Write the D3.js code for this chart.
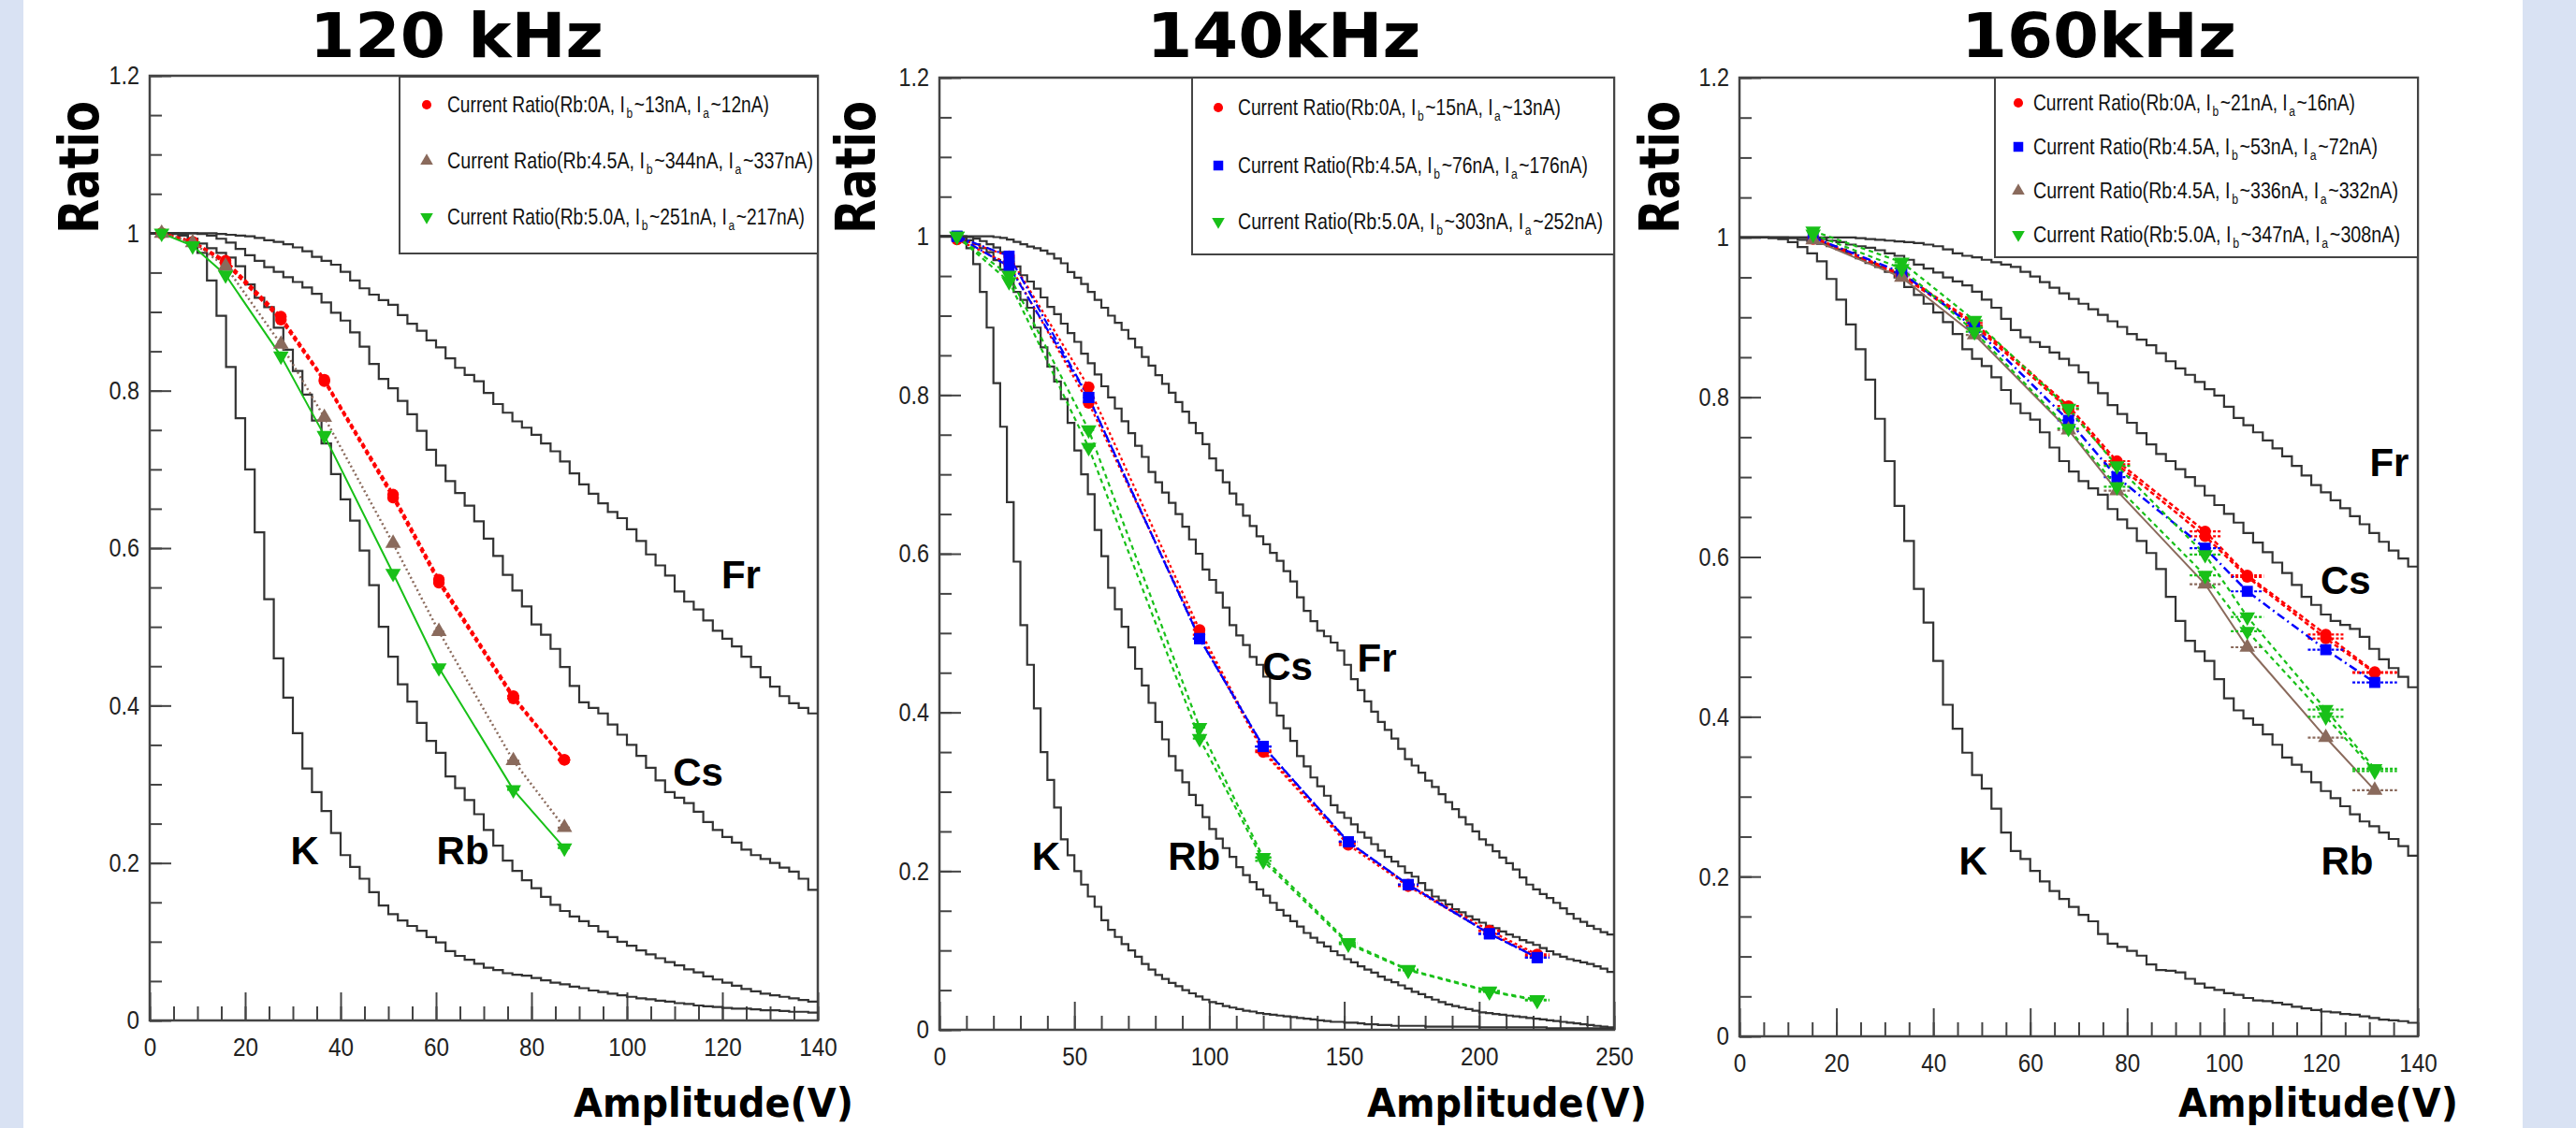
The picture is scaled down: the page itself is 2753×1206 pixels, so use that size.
<!DOCTYPE html>
<html>
<head>
<meta charset="utf-8">
<script src="https://cdn.jsdelivr.net/npm/d3@7"></script>
<style>
  body { margin: 0; background: #fff; overflow: hidden; }
  svg { display: block; }
</style>
</head>
<body>
<div id="chart"></div>
<script>
// ---- tick labels
const ratioTicks = [0, 0.2, 0.4, 0.6, 0.8, 1, 1.2];
const ampTicks140 = [0, 20, 40, 60, 80, 100, 120, 140];
const ampTicks250 = [0, 50, 100, 150, 200, 250];

// ---- 120 kHz : measured points
const amp120 = [2.5, 9, 15.9, 27.5, 36.6, 51, 60.6, 76.2, 86.9];
const xerr120 = [0.5, 0.6, 0.7, 0.8, 0.9, 1.0, 1.1, 1.3, 1.4];
const red120 = [1.0, 0.989, 0.965, 0.894, 0.814, 0.668, 0.560, 0.412, 0.331];
const red120b = [1.0, 0.989, 0.962, 0.890, 0.812, 0.664, 0.556, 0.409, 0.331];
const brown120 = [1.0, 0.988, 0.958, 0.859, 0.766, 0.606, 0.494, 0.330, 0.245];
const green120 = [1.0, 0.984, 0.947, 0.844, 0.743, 0.568, 0.448, 0.293, 0.219];
const legRb120 = ["0A", "4.5A", "5.0A"];
const legIb120 = [13, 344, 251];
const legIa120 = [12, 337, 217];

// 120 kHz : histograms (bin width 2 V, 0..140)
const hist120K = [1.0, 1.0, 0.999, 0.997, 0.993, 0.975, 0.94, 0.895, 0.83, 0.765,
  0.70, 0.62, 0.535, 0.46, 0.41, 0.365, 0.32, 0.29, 0.266, 0.238,
  0.21, 0.195, 0.18, 0.163, 0.146, 0.135, 0.127, 0.12, 0.114, 0.106,
  0.099, 0.088, 0.082, 0.077, 0.072, 0.067, 0.064, 0.06, 0.058, 0.057,
  0.054, 0.051, 0.048, 0.046, 0.043, 0.041, 0.038, 0.036, 0.034, 0.032,
  0.030, 0.028, 0.027, 0.025, 0.024, 0.022, 0.021, 0.019, 0.018, 0.017,
  0.016, 0.015, 0.015, 0.014, 0.013, 0.013, 0.012, 0.011, 0.011, 0.010];
const hist120Rb = [1.0, 1.0, 1.0, 0.998, 0.993, 0.987, 0.981, 0.975, 0.969, 0.958,
  0.935, 0.918, 0.906, 0.88, 0.852, 0.825, 0.795, 0.762, 0.733, 0.694,
  0.662, 0.635, 0.597, 0.553, 0.50, 0.462, 0.427, 0.405, 0.378, 0.355,
  0.34, 0.31, 0.295, 0.28, 0.262, 0.242, 0.222, 0.203, 0.19, 0.178,
  0.168, 0.157, 0.147, 0.139, 0.132, 0.126, 0.12, 0.113, 0.106, 0.1,
  0.095, 0.089, 0.084, 0.079, 0.074, 0.07, 0.065, 0.061, 0.056, 0.052,
  0.048, 0.044, 0.04, 0.037, 0.034, 0.032, 0.03, 0.028, 0.026, 0.024];
const hist120Cs = [1.0, 1.0, 1.0, 1.0, 1.0, 0.999, 0.997, 0.993, 0.988, 0.98,
  0.972, 0.965, 0.957, 0.951, 0.944, 0.938, 0.931, 0.923, 0.912, 0.899,
  0.889, 0.874, 0.856, 0.834, 0.815, 0.803, 0.787, 0.77, 0.749, 0.725,
  0.705, 0.685, 0.67, 0.654, 0.634, 0.612, 0.59, 0.566, 0.546, 0.526,
  0.503, 0.49, 0.472, 0.449, 0.425, 0.404, 0.397, 0.39, 0.376, 0.363,
  0.35, 0.336, 0.321, 0.305, 0.29, 0.283, 0.276, 0.265, 0.252, 0.242,
  0.233, 0.226, 0.217, 0.21, 0.205, 0.2, 0.194, 0.189, 0.18, 0.166];
const hist120Fr = [1.0, 1.0, 1.0, 1.0, 1.0, 1.0, 1.0, 0.999, 0.998, 0.997,
  0.996, 0.994, 0.991, 0.989, 0.986, 0.982, 0.977, 0.97, 0.965, 0.96,
  0.951, 0.94, 0.93, 0.922, 0.915, 0.909, 0.896, 0.885, 0.876, 0.864,
  0.855, 0.841, 0.829, 0.82, 0.812, 0.797, 0.783, 0.772, 0.761, 0.753,
  0.744, 0.733, 0.723, 0.71, 0.695, 0.681, 0.669, 0.657, 0.646, 0.638,
  0.624, 0.609, 0.592, 0.578, 0.565, 0.545, 0.532, 0.522, 0.508, 0.495,
  0.485, 0.475, 0.462, 0.449, 0.436, 0.424, 0.412, 0.403, 0.397, 0.39];

// ---- 140 kHz : measured points
const amp140 = [6.5, 25.8, 55.3, 96.4, 120, 151.5, 173.7, 203.8, 221.5];
const xerr140 = [1, 1.5, 2, 2.5, 3, 3.5, 3.8, 4.1, 4.5];
const red140 = [0.998, 0.975, 0.810, 0.504, 0.352, 0.236, 0.183, 0.125, 0.095];
const red140b = [0.996, 0.965, 0.790, 0.498, 0.350, 0.233, 0.181, 0.122, 0.093];
const blue140 = [1.0, 0.975, 0.797, 0.493, 0.357, 0.237, 0.183, 0.121, 0.091];
const blue140b = [1.0, 0.962, 0.797, 0.493, 0.357, 0.237, 0.183, 0.121, 0.091];
const green140 = [1.0, 0.951, 0.756, 0.381, 0.217, 0.110, 0.076, 0.049, 0.038];
const green140b = [1.0, 0.943, 0.734, 0.367, 0.213, 0.108, 0.075, 0.048, 0.037];
const legRb140 = ["0A", "4.5A", "5.0A"];
const legIb140 = [15, 76, 303];
const legIa140 = [13, 176, 252];

// 140 kHz : histograms (bin width 2.5 V, 0..250)
const hist140K = [1.0, 1.0, 1.0, 0.995, 0.985, 0.965, 0.93, 0.885, 0.815, 0.76,
  0.665, 0.59, 0.51, 0.46, 0.405, 0.35, 0.315, 0.28, 0.24, 0.22,
  0.2, 0.183, 0.168, 0.155, 0.138, 0.126, 0.117, 0.108, 0.1, 0.092,
  0.083, 0.076, 0.069, 0.064, 0.059, 0.055, 0.05, 0.046, 0.042, 0.038,
  0.035, 0.033, 0.03, 0.028, 0.026, 0.024, 0.023, 0.021, 0.02, 0.019,
  0.018, 0.017, 0.016, 0.015, 0.014, 0.013, 0.012, 0.011, 0.01, 0.01,
  0.009, 0.009, 0.008, 0.007, 0.007, 0.006, 0.006, 0.005, 0.005, 0.005,
  0.005, 0.005, 0.004, 0.004, 0.004, 0.004, 0.004, 0.004, 0.004, 0.004,
  0.003, 0.003, 0.003, 0.003, 0.003, 0.003, 0.003, 0.003, 0.003, 0.003,
  0.002, 0.002, 0.002, 0.002, 0.002, 0.002, 0.002, 0.002, 0.002, 0.002];
const hist140Rb = [1.0, 1.0, 1.0, 0.998, 0.995, 0.99, 0.985, 0.98, 0.97, 0.958,
  0.945, 0.93, 0.92, 0.91, 0.885, 0.86, 0.836, 0.817, 0.795, 0.765,
  0.73, 0.70, 0.675, 0.63, 0.597, 0.557, 0.53, 0.508, 0.482, 0.455,
  0.434, 0.412, 0.388, 0.366, 0.345, 0.327, 0.312, 0.296, 0.283, 0.268,
  0.253, 0.241, 0.229, 0.218, 0.205, 0.195, 0.186, 0.177, 0.169, 0.16,
  0.151, 0.144, 0.137, 0.13, 0.122, 0.116, 0.11, 0.105, 0.099, 0.094,
  0.089, 0.085, 0.08, 0.076, 0.072, 0.067, 0.063, 0.06, 0.056, 0.052,
  0.048, 0.045, 0.041, 0.038, 0.035, 0.032, 0.03, 0.028, 0.026, 0.024,
  0.022, 0.021, 0.02, 0.019, 0.018, 0.017, 0.016, 0.015, 0.014, 0.013,
  0.012, 0.011, 0.01, 0.009, 0.008, 0.007, 0.006, 0.005, 0.004, 0.003];
const hist140Cs = [1.0, 1.0, 1.0, 1.0, 0.999, 0.997, 0.994, 0.99, 0.986, 0.98,
  0.972, 0.962, 0.951, 0.943, 0.934, 0.923, 0.911, 0.902, 0.89, 0.878,
  0.867, 0.852, 0.84, 0.826, 0.811, 0.797, 0.783, 0.767, 0.752, 0.736,
  0.722, 0.703, 0.69, 0.677, 0.664, 0.65, 0.634, 0.618, 0.6, 0.58,
  0.567, 0.551, 0.532, 0.51, 0.497, 0.485, 0.47, 0.46, 0.445, 0.412,
  0.396, 0.38, 0.364, 0.345, 0.332, 0.318, 0.307, 0.295, 0.283, 0.274,
  0.267, 0.259, 0.249, 0.242, 0.234, 0.226, 0.218, 0.212, 0.206, 0.198,
  0.193, 0.185, 0.176, 0.168, 0.163, 0.158, 0.152, 0.148, 0.143, 0.139,
  0.135, 0.131, 0.128, 0.124, 0.12, 0.117, 0.113, 0.11, 0.107, 0.103,
  0.099, 0.095, 0.092, 0.089, 0.087, 0.085, 0.083, 0.08, 0.077, 0.073];
const hist140Fr = [1.0, 1.0, 1.0, 1.0, 1.0, 1.0, 1.0, 1.0, 0.999, 0.998,
  0.996, 0.993, 0.99, 0.987, 0.985, 0.982, 0.978, 0.972, 0.966, 0.955,
  0.948, 0.94, 0.93, 0.92, 0.91, 0.9, 0.891, 0.882, 0.871, 0.86,
  0.848, 0.837, 0.825, 0.814, 0.803, 0.791, 0.779, 0.765, 0.752, 0.738,
  0.72, 0.705, 0.69, 0.676, 0.662, 0.648, 0.635, 0.622, 0.612, 0.601,
  0.591, 0.578, 0.565, 0.545, 0.528, 0.515, 0.503, 0.496, 0.488, 0.478,
  0.46, 0.442, 0.428, 0.414, 0.401, 0.388, 0.378, 0.367, 0.354, 0.341,
  0.333, 0.324, 0.314, 0.306, 0.297, 0.287, 0.278, 0.268, 0.259, 0.25,
  0.24, 0.233, 0.225, 0.217, 0.21, 0.202, 0.192, 0.183, 0.177, 0.171,
  0.166, 0.16, 0.153, 0.146, 0.14, 0.136, 0.131, 0.127, 0.123, 0.12];

// ---- 160 kHz : measured points
const amp160 = [15.2, 33.5, 48.5, 67.9, 77.9, 96.1, 104.8, 121.0, 131.1];
const xerr160 = [1, 1.5, 1.8, 2.3, 2.7, 3.2, 3.4, 3.7, 4.6];
const red160 = [1.0, 0.954, 0.893, 0.789, 0.720, 0.632, 0.577, 0.503, 0.456];
const red160b = [0.998, 0.952, 0.890, 0.785, 0.716, 0.626, 0.575, 0.498, 0.455];
const blue160 = [1.0, 0.956, 0.887, 0.771, 0.700, 0.611, 0.557, 0.484, 0.443];
const brown160 = [0.997, 0.950, 0.878, 0.759, 0.683, 0.566, 0.487, 0.374, 0.308];
const green160 = [1.008, 0.969, 0.896, 0.786, 0.714, 0.603, 0.525, 0.409, 0.335];
const green160b = [1.004, 0.961, 0.882, 0.761, 0.688, 0.577, 0.507, 0.400, 0.332];
const legRb160 = ["0A", "4.5A", "4.5A", "5.0A"];
const legIb160 = [21, 53, 336, 347];
const legIa160 = [16, 72, 332, 308];

// 160 kHz : histograms (bin width 2 V, 0..140)
const hist160K = [1.0, 1.0, 1.0, 0.999, 0.998, 0.994, 0.988, 0.98, 0.97, 0.948,
  0.922, 0.891, 0.86, 0.822, 0.773, 0.72, 0.664, 0.62, 0.56, 0.518,
  0.47, 0.415, 0.385, 0.355, 0.327, 0.31, 0.285, 0.255, 0.232, 0.222,
  0.207, 0.194, 0.182, 0.172, 0.162, 0.152, 0.144, 0.128, 0.116, 0.112,
  0.107, 0.101, 0.09, 0.083, 0.082, 0.08, 0.072, 0.066, 0.061, 0.058,
  0.054, 0.052, 0.048, 0.045, 0.044, 0.042, 0.04, 0.037, 0.035, 0.033,
  0.031, 0.03, 0.028, 0.027, 0.025, 0.023, 0.021, 0.02, 0.019, 0.017];
const hist160Rb = [1.0, 1.0, 1.0, 1.0, 1.0, 0.999, 0.997, 0.995, 0.992, 0.989,
  0.985, 0.981, 0.974, 0.968, 0.963, 0.957, 0.95, 0.938, 0.928, 0.917,
  0.906, 0.894, 0.879, 0.86, 0.848, 0.839, 0.825, 0.809, 0.792, 0.78,
  0.772, 0.756, 0.737, 0.72, 0.707, 0.695, 0.686, 0.678, 0.66, 0.647,
  0.636, 0.62, 0.605, 0.585, 0.55, 0.52, 0.495, 0.482, 0.47, 0.447,
  0.423, 0.408, 0.398, 0.39, 0.378, 0.365, 0.349, 0.34, 0.331, 0.318,
  0.307, 0.298, 0.288, 0.278, 0.269, 0.263, 0.255, 0.247, 0.238, 0.226];
const hist160Cs = [1.0, 1.0, 1.0, 1.0, 1.0, 1.0, 1.0, 1.0, 0.998, 0.996,
  0.994, 0.991, 0.989, 0.987, 0.984, 0.98, 0.977, 0.972, 0.966, 0.961,
  0.956, 0.95, 0.945, 0.94, 0.932, 0.922, 0.912, 0.898, 0.884, 0.875,
  0.869, 0.863, 0.856, 0.848, 0.84, 0.831, 0.818, 0.805, 0.79, 0.779,
  0.768, 0.755, 0.741, 0.729, 0.72, 0.71, 0.7, 0.689, 0.677, 0.665,
  0.654, 0.643, 0.63, 0.618, 0.606, 0.593, 0.58, 0.565, 0.55, 0.54,
  0.528, 0.52, 0.515, 0.51, 0.5, 0.485, 0.472, 0.461, 0.45, 0.437];
const hist160Fr = [1.0, 1.0, 1.0, 1.0, 1.0, 1.0, 1.0, 1.0, 1.0, 1.0,
  1.0, 1.0, 0.999, 0.998, 0.997, 0.996, 0.995, 0.994, 0.993, 0.991,
  0.989, 0.985, 0.98, 0.977, 0.975, 0.972, 0.969, 0.966, 0.963, 0.957,
  0.951, 0.944, 0.937, 0.93, 0.923, 0.917, 0.91, 0.903, 0.895, 0.888,
  0.879, 0.872, 0.865, 0.855, 0.845, 0.836, 0.828, 0.819, 0.81, 0.802,
  0.788, 0.774, 0.765, 0.756, 0.746, 0.736, 0.726, 0.714, 0.702, 0.69,
  0.681, 0.671, 0.661, 0.651, 0.641, 0.63, 0.619, 0.608, 0.598, 0.588];

// ---- styles
const RED = "#ff0000", BLUE = "#0000ff", BROWN = "#8a6a5c", GREEN = "#18c018";
const W = 2753, H = 1206;
const boldFont = "'DejaVu Sans', Verdana, sans-serif";
const plainFont = "'Liberation Sans', Arial, sans-serif";

const panels = [
  {
    title: "120 kHz", titleX: 488, titleW: 314, ratioX: 105, ampRight: 912,
    left: 160, right: 874, top: 81, bottom: 1091,
    xMax: 140, xTicks: ampTicks140, xMinor: 5, binW: 2,
    hist: [hist120K, hist120Rb, hist120Cs, hist120Fr],
    names: [["K", 32.5, 0.199], ["Rb", 65.6, 0.199], ["Cs", 114.9, 0.298], ["Fr", 123.9, 0.549]],
    amp: amp120, xerr: xerr120,
    series: [
      { color: RED, shape: "circle", dash: "5,3", width: 3, ys: [red120, red120b] },
      { color: BROWN, shape: "up", dash: "2,3", width: 2.5, ys: [brown120] },
      { color: GREEN, shape: "down", dash: null, width: 2, ys: [green120] }
    ],
    legend: { x0: 427, y0: 82, y1: 271, mx: 456, tx: 478, rows: [112, 172, 232], widths: [344, 391, 382],
      rb: legRb120, ib: legIb120, ia: legIa120 }
  },
  {
    title: "140kHz", titleX: 1372, titleW: 293, ratioX: 935, ampRight: 1760,
    left: 1004, right: 1725, top: 83, bottom: 1101,
    xMax: 250, xTicks: ampTicks250, xMinor: 10, binW: 2.5,
    hist: [hist140K, hist140Rb, hist140Cs, hist140Fr],
    names: [["K", 39.5, 0.201], ["Rb", 94.4, 0.201], ["Cs", 129, 0.441], ["Fr", 162.1, 0.451]],
    amp: amp140, xerr: xerr140,
    series: [
      { color: RED, shape: "circle", dash: "3,3", width: 2.2, ys: [red140, red140b] },
      { color: BLUE, shape: "square", dash: "9,3,2,3", width: 2.2, ys: [blue140, blue140b] },
      { color: GREEN, shape: "down", dash: "5,4", width: 2.2, ys: [green140, green140b] }
    ],
    legend: { x0: 1274, y0: 83, y1: 272, mx: 1302, tx: 1323, rows: [115, 177, 237], widths: [345, 374, 390],
      rb: legRb140, ib: legIb140, ia: legIa140 }
  },
  {
    title: "160kHz", titleX: 2243, titleW: 294, ratioX: 1794, ampRight: 2627,
    left: 1859, right: 2584, top: 83, bottom: 1108,
    xMax: 140, xTicks: ampTicks140, xMinor: 5, binW: 2,
    hist: [hist160K, hist160Rb, hist160Cs, hist160Fr],
    names: [["K", 48.2, 0.203], ["Rb", 125.4, 0.203], ["Cs", 125.1, 0.554], ["Fr", 134.1, 0.701]],
    amp: amp160, xerr: xerr160,
    series: [
      { color: RED, shape: "circle", dash: "5,3", width: 2.5, ys: [red160, red160b] },
      { color: BLUE, shape: "square", dash: "9,4,2,4", width: 2.5, ys: [blue160] },
      { color: BROWN, shape: "up", dash: null, width: 2, ys: [brown160] },
      { color: GREEN, shape: "down", dash: "5,4", width: 2.2, ys: [green160, green160b] }
    ],
    legend: { x0: 2132, y0: 83, y1: 275, mx: 2157, tx: 2173, rows: [110, 157, 204, 251], widths: [344, 368, 390, 392],
      rb: legRb160, ib: legIb160, ia: legIa160 }
  }
];

const svg = d3.select("#chart").append("svg")
  .attr("width", W).attr("height", H);

// side strips
svg.append("rect").attr("x", 0).attr("y", 0).attr("width", 25).attr("height", H).attr("fill", "#d9e2f3");
svg.append("rect").attr("x", 2696).attr("y", 0).attr("width", W - 2696).attr("height", H).attr("fill", "#d9e2f3");

function symbolPath(shape, size) {
  const type = shape === "circle" ? d3.symbolCircle
    : shape === "square" ? d3.symbolSquare : d3.symbolTriangle;
  return d3.symbol().type(type).size(size)();
}

function drawMarker(g, shape, color, cx, cy, size) {
  g.append("path")
    .attr("d", symbolPath(shape, size))
    .attr("transform", `translate(${cx},${cy})` + (shape === "down" ? " rotate(180)" : ""))
    .attr("fill", color);
}

// narrow look for tick labels: squeeze to a fixed width per character
function tickWidth(s) {
  return s.split("").reduce((w, c) => w + (c === "." ? 5.5 : 13.5), 0);
}

// legend line: text pieces laid out one after another (subscripts lowered),
// then the whole row is squeezed horizontally to the width seen in the picture
function legendText(g, x0, cy, target, rb, ib, ia) {
  const parts = [
    [`Current Ratio(Rb:${rb}, I`, false], ["b", true],
    [`~${ib}nA, I`, false], ["a", true], [`~${ia}nA)`, false]
  ];
  const gap = 2;
  const row = g.append("g");
  let cx = 0;
  parts.forEach(([txt, sub]) => {
    const t = row.append("text")
      .attr("x", cx).attr("y", sub ? cy + 14 : cy + 8)
      .attr("font-family", plainFont)
      .attr("font-size", sub ? 15 : 24)
      .attr("fill", "#111")
      .text(txt);
    cx += t.node().getComputedTextLength() + gap;
  });
  const k = target / (cx - gap);
  row.attr("transform", `translate(${x0},0) scale(${k},1)`);
}

panels.forEach(p => {
  const x = d3.scaleLinear().domain([0, p.xMax]).range([p.left, p.right]);
  const y = d3.scaleLinear().domain([0, 1.2]).range([p.bottom, p.top]);
  const g = svg.append("g");

  // title
  g.append("text")
    .attr("x", p.titleX).attr("y", 61)
    .attr("text-anchor", "middle")
    .attr("font-family", boldFont).attr("font-weight", "bold")
    .attr("font-size", 66)
    .attr("textLength", p.titleW).attr("lengthAdjust", "spacingAndGlyphs")
    .text(p.title);

  // frame
  g.append("rect")
    .attr("x", p.left).attr("y", p.top)
    .attr("width", p.right - p.left).attr("height", p.bottom - p.top)
    .attr("fill", "#fff").attr("stroke", "#444").attr("stroke-width", 2.5);

  // axes (ticks inside, ROOT style)
  const yMajor = g.append("g").attr("transform", `translate(${p.left},0)`)
    .call(d3.axisLeft(y).tickValues(ratioTicks).tickSize(-23).tickPadding(11)
      .tickFormat(d3.format("~g")));
  const yMinor = g.append("g").attr("transform", `translate(${p.left},0)`)
    .call(d3.axisLeft(y).tickValues(d3.range(0, 1.2001, 0.05)).tickSize(-13).tickFormat(""));
  const xMajor = g.append("g").attr("transform", `translate(0,${p.bottom})`)
    .call(d3.axisBottom(x).tickValues(p.xTicks).tickSize(-30).tickPadding(18)
      .tickFormat(d3.format("~g")));
  const xMinor = g.append("g").attr("transform", `translate(0,${p.bottom})`)
    .call(d3.axisBottom(x).tickValues(d3.range(0, p.xMax + 0.001, p.xMinor)).tickSize(-15).tickFormat(""));
  [yMajor, yMinor, xMajor, xMinor].forEach(a => {
    a.select(".domain").remove();
    a.selectAll("line").attr("stroke", "#444").attr("stroke-width", 2);
    a.selectAll("text")
      .attr("font-family", plainFont).attr("font-size", 28).attr("fill", "#222")
      .attr("textLength", function () { return tickWidth(this.textContent); })
      .attr("lengthAdjust", "spacingAndGlyphs");
  });

  // histograms
  const stepLine = d3.line().x(d => x(d[0])).y(d => y(d[1])).curve(d3.curveStepAfter);
  p.hist.forEach(h => {
    const pts = h.map((v, i) => [i * p.binW, v]);
    pts.push([h.length * p.binW, h[h.length - 1]]);
    g.append("path").attr("d", stepLine(pts))
      .attr("fill", "none").attr("stroke", "#333").attr("stroke-width", 2.2);
  });

  // element names
  p.names.forEach(([t, vx, vy]) => {
    g.append("text").attr("x", x(vx)).attr("y", y(vy))
      .attr("text-anchor", "middle")
      .attr("font-family", plainFont).attr("font-weight", "bold")
      .attr("font-size", 42).text(t);
  });

  // measured series
  const line = d3.line().x((d, i) => x(p.amp[i])).y(d => y(d));
  p.series.forEach(s => {
    s.ys.forEach(ys => {
      g.append("path").attr("d", line(ys))
        .attr("fill", "none").attr("stroke", s.color)
        .attr("stroke-width", s.width)
        .attr("stroke-dasharray", s.dash);
      ys.forEach((v, i) => {
        g.append("line")
          .attr("x1", x(p.amp[i] - p.xerr[i])).attr("x2", x(p.amp[i] + p.xerr[i]))
          .attr("y1", y(v)).attr("y2", y(v))
          .attr("stroke", s.color).attr("stroke-width", 2.2)
          .attr("stroke-dasharray", "3,2");
      });
    });
  });
  p.series.forEach(s => {
    s.ys.forEach(ys => {
      ys.forEach((v, i) => drawMarker(g, s.shape, s.color, x(p.amp[i]), y(v), s.shape === "square" ? 140 : 120));
    });
  });

  // legend
  const L = p.legend;
  g.append("rect")
    .attr("x", L.x0).attr("y", L.y0)
    .attr("width", p.right - L.x0).attr("height", L.y1 - L.y0)
    .attr("fill", "#fff").attr("stroke", "#444").attr("stroke-width", 2);
  p.series.forEach((s, r) => {
    const cy = L.rows[r];
    drawMarker(g, s.shape, s.color, L.mx, cy, s.shape === "square" ? 110 : 80);
    legendText(g, L.tx, cy, L.widths[r], L.rb[r], L.ib[r], L.ia[r]);
  });

  // axis titles
  g.append("text")
    .attr("transform", `translate(${p.ratioX},179) rotate(-90)`)
    .attr("text-anchor", "middle")
    .attr("font-family", boldFont).attr("font-weight", "bold")
    .attr("font-size", 58)
    .attr("textLength", 142).attr("lengthAdjust", "spacingAndGlyphs")
    .text("Ratio");
  g.append("text")
    .attr("x", p.ampRight).attr("y", 1194)
    .attr("text-anchor", "end")
    .attr("font-family", boldFont).attr("font-weight", "bold")
    .attr("font-size", 42)
    .attr("textLength", 299).attr("lengthAdjust", "spacingAndGlyphs")
    .text("Amplitude(V)");
});
</script>
</body>
</html>
